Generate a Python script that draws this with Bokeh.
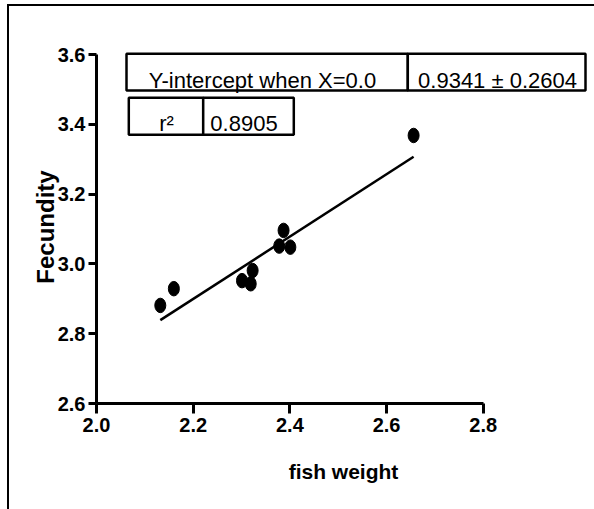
from bokeh.plotting import figure
from bokeh.models import Range1d, FixedTicker, PrintfTickFormatter
from bokeh.core.properties import value
from bokeh.embed import file_html
from bokeh.resources import INLINE

# ---- data ----
fish_weight = [2.132, 2.160, 2.301, 2.319, 2.323, 2.378, 2.387, 2.401, 2.656]
fecundity = [2.881, 2.929, 2.952, 2.943, 2.981, 3.051, 3.096, 3.048, 3.368]
fit_intercept = 0.9341
fit_slope = 0.8934
x_ticks = [2.0, 2.2, 2.4, 2.6, 2.8]
y_ticks = [2.6, 2.8, 3.0, 3.2, 3.4, 3.6]
table1_labels = ["Y-intercept when X=0.0", "0.9341 \u00b1 0.2604"]
table2_labels = ["r\u00b2", "0.8905"]

# ---- layout (canvas pixels -> data) ----
PX_PER_X = 483.4
PX_PER_Y = 349.0
X_ORIGIN_PX = 96.0   # canvas x of x=2.0
Y_ORIGIN_PX = 403.0  # canvas y of y=2.6


def px2x(px):
    return 2.0 + (px - X_ORIGIN_PX) / PX_PER_X


def px2y(py):
    return 2.6 + (Y_ORIGIN_PX - py) / PX_PER_Y


FONT = "Liberation Sans"

W, H = 594, 509
FRAME_TOP = 50
FRAME_RIGHT = 590
p = figure(width=W, height=H, output_backend="svg", toolbar_location=None,
           x_range=Range1d(2.0, px2x(FRAME_RIGHT)), y_range=Range1d(2.6, px2y(FRAME_TOP)),
           min_border_left=int(X_ORIGIN_PX), min_border_right=W - FRAME_RIGHT,
           min_border_top=FRAME_TOP, min_border_bottom=H - int(Y_ORIGIN_PX))
# outer crop frame (top and left edges) drawn as page background behind a transparent canvas
p.styles = {
    "background-color": "white",
    "background-image": "linear-gradient(black, black), linear-gradient(black, black)",
    "background-size": "2px 505px, 587px 2px",
    "background-position": "7px 4px, 7px 4px",
    "background-repeat": "no-repeat",
}
p.outline_line_color = None
p.background_fill_color = None
p.border_fill_color = None
p.xgrid.visible = False
p.ygrid.visible = False

for ax in (p.xaxis[0], p.yaxis[0]):
    ax.axis_line_width = 3
    ax.axis_line_color = "black"
    ax.major_tick_line_width = 3
    ax.major_tick_line_color = "black"
    ax.major_tick_in = 0
    ax.minor_tick_line_color = None
    ax.major_label_text_font = FONT
    ax.major_label_text_font_style = "bold"
    ax.major_label_text_font_size = "20px"
    ax.major_label_text_color = "black"
    ax.axis_label_text_font = FONT
    ax.axis_label_text_font_style = "bold"
    ax.axis_label_text_color = "black"
    ax.formatter = PrintfTickFormatter(format="%.1f")

p.xaxis[0].bounds = (2.0, 2.8)
p.xaxis[0].ticker = FixedTicker(ticks=x_ticks)
p.xaxis[0].major_tick_out = 10
p.xaxis[0].major_label_standoff = 4
p.xaxis[0].axis_label = "fish weight"
p.xaxis[0].axis_label_text_font_size = "21px"
p.xaxis[0].axis_label_standoff = 25

p.yaxis[0].bounds = (2.6, 3.6)
p.yaxis[0].ticker = FixedTicker(ticks=y_ticks)
p.yaxis[0].major_tick_out = 8
p.yaxis[0].major_label_standoff = 3
p.yaxis[0].axis_label = "Fecundity"
p.yaxis[0].axis_label_text_font_size = "24px"
p.yaxis[0].axis_label_standoff = -4

# regression line
x_fit = [min(fish_weight), max(fish_weight)]
y_fit = [fit_intercept + fit_slope * v for v in x_fit]
p.line(x_fit, y_fit, line_color="black", line_width=2.5)

# points
p.ellipse(fish_weight, fecundity, width=11, height=14.5,
          width_units="screen", height_units="screen",
          fill_color="black", line_color="black")

# tables
t1_left, t1_div, t1_right, t1_top, t1_bot = 126, 407.3, 585, 53.3, 90
t2_left, t2_div, t2_right, t2_top, t2_bot = 128.3, 202.7, 293.3, 97.3, 134.3
p.quad(left=[px2x(t1_left), px2x(t1_div), px2x(t2_left), px2x(t2_div)],
       right=[px2x(t1_div), px2x(t1_right), px2x(t2_div), px2x(t2_right)],
       top=[px2y(t1_top), px2y(t1_top), px2y(t2_top), px2y(t2_top)],
       bottom=[px2y(t1_bot), px2y(t1_bot), px2y(t2_bot), px2y(t2_bot)],
       fill_color="white", line_color="black", line_width=2.5)

p.text(x=[px2x(262), px2x(497), px2x(166), px2x(243.5)],
       y=[px2y(80), px2y(80), px2y(123.3), px2y(123.3)],
       text=table1_labels + table2_labels,
       text_font=value(FONT), text_font_size="22px",
       text_align="center", text_baseline="alphabetic", text_color="black")

open("out.html", "w").write(file_html(p, INLINE))
